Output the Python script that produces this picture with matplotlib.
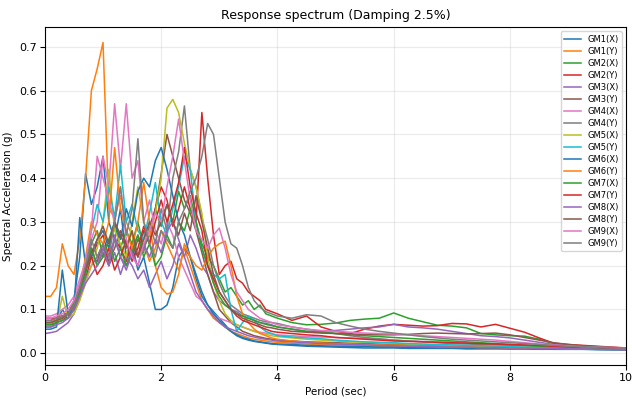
import numpy as np
import matplotlib
matplotlib.use("Agg")
import matplotlib.pyplot as plt

# periods: 0.1 s step up to 4 s, 0.25 s step after
periods = np.concatenate([np.arange(0, 4.01, 0.1), np.arange(4.25, 10.01, 0.25)])

gm1_x = [0.06, 0.06, 0.07, 0.10, 0.08, 0.12, 0.22, 0.41, 0.34, 0.38,
         0.45, 0.30, 0.26, 0.33, 0.22, 0.25, 0.19, 0.22, 0.16, 0.10,
         0.10, 0.11, 0.15, 0.22, 0.24, 0.22, 0.17, 0.13, 0.11, 0.095,
         0.08, 0.065, 0.05, 0.04, 0.034, 0.03, 0.027, 0.025, 0.023, 0.021,
         0.02,
         0.018, 0.016, 0.015, 0.014, 0.013, 0.012, 0.012, 0.012, 0.011, 0.011, 0.011, 0.011,
         0.010, 0.010, 0.010, 0.010, 0.010, 0.009, 0.009, 0.009, 0.009, 0.009, 0.008, 0.008]
gm1_y = [0.13, 0.13, 0.15, 0.25, 0.20, 0.18, 0.26, 0.40, 0.60, 0.65,
         0.71, 0.33, 0.31, 0.36, 0.30, 0.27, 0.22, 0.25, 0.21, 0.24,
         0.28, 0.25, 0.22, 0.19, 0.24, 0.20, 0.16, 0.12, 0.10, 0.08,
         0.07, 0.06, 0.05, 0.045, 0.04, 0.035, 0.032, 0.03, 0.028, 0.026,
         0.025,
         0.023, 0.021, 0.02, 0.019, 0.018, 0.017, 0.016, 0.016, 0.015, 0.015, 0.014, 0.014,
         0.013, 0.013, 0.013, 0.012, 0.012, 0.012, 0.011, 0.011, 0.011, 0.010, 0.010, 0.010]
gm2_x = [0.07, 0.07, 0.075, 0.08, 0.09, 0.12, 0.15, 0.19, 0.25, 0.28,
         0.22, 0.26, 0.30, 0.24, 0.28, 0.25, 0.30, 0.24, 0.27, 0.33,
         0.29, 0.34, 0.30, 0.37, 0.33, 0.36, 0.30, 0.25, 0.22, 0.20,
         0.17, 0.14, 0.15, 0.13, 0.11, 0.12, 0.10, 0.11, 0.09, 0.085,
         0.08,
         0.07, 0.065, 0.066, 0.069, 0.075, 0.078, 0.08, 0.092, 0.08, 0.072, 0.064, 0.062,
         0.058, 0.045, 0.042, 0.04, 0.039, 0.032, 0.022, 0.018, 0.016, 0.014, 0.012, 0.011]
gm2_y = [0.08, 0.08, 0.08, 0.085, 0.09, 0.10, 0.13, 0.17, 0.22, 0.25,
         0.27, 0.22, 0.26, 0.24, 0.21, 0.25, 0.22, 0.28, 0.25, 0.33,
         0.38, 0.35, 0.29, 0.33, 0.38, 0.33, 0.30, 0.55, 0.40, 0.27,
         0.18, 0.20, 0.21, 0.17, 0.16, 0.14, 0.13, 0.12, 0.10, 0.095,
         0.09,
         0.075, 0.085, 0.06, 0.05, 0.045, 0.055, 0.062, 0.066, 0.064, 0.062, 0.063, 0.068,
         0.067, 0.06, 0.066, 0.057, 0.048, 0.035, 0.023, 0.02, 0.018, 0.016, 0.014, 0.012]
gm3_x = [0.045, 0.047, 0.05, 0.06, 0.07, 0.09, 0.13, 0.17, 0.20, 0.22,
         0.25, 0.20, 0.23, 0.18, 0.22, 0.20, 0.17, 0.19, 0.15, 0.18,
         0.21, 0.17, 0.20, 0.25, 0.22, 0.27, 0.24, 0.20, 0.18, 0.14,
         0.12, 0.11, 0.10, 0.095, 0.085, 0.08, 0.075, 0.07, 0.068, 0.065,
         0.06,
         0.055, 0.05, 0.05, 0.052, 0.055, 0.058, 0.06, 0.066, 0.06, 0.058, 0.055, 0.05,
         0.045, 0.04, 0.038, 0.035, 0.03, 0.025, 0.02, 0.016, 0.014, 0.012, 0.011, 0.01]
gm3_y = [0.065, 0.065, 0.07, 0.075, 0.085, 0.10, 0.14, 0.19, 0.22, 0.21,
         0.25, 0.21, 0.24, 0.28, 0.25, 0.22, 0.26, 0.24, 0.29, 0.33,
         0.41, 0.50, 0.45, 0.40, 0.35, 0.32, 0.28, 0.23, 0.18, 0.14,
         0.10, 0.085, 0.07, 0.06, 0.05, 0.045, 0.04, 0.037, 0.034, 0.032,
         0.03,
         0.028, 0.026, 0.025, 0.024, 0.023, 0.022, 0.021, 0.02, 0.019, 0.018, 0.018, 0.017,
         0.016, 0.016, 0.015, 0.014, 0.013, 0.012, 0.011, 0.01, 0.01, 0.009, 0.009, 0.008]
gm4_x = [0.085, 0.085, 0.09, 0.10, 0.11, 0.13, 0.17, 0.21, 0.26, 0.30,
         0.45, 0.38, 0.57, 0.42, 0.57, 0.40, 0.44, 0.30, 0.35, 0.28,
         0.25, 0.30, 0.27, 0.22, 0.19, 0.16, 0.13, 0.12, 0.10, 0.09,
         0.08, 0.075, 0.07, 0.065, 0.06, 0.055, 0.05, 0.048, 0.046, 0.044,
         0.042,
         0.04, 0.038, 0.037, 0.036, 0.035, 0.034, 0.032, 0.03, 0.028, 0.027, 0.026, 0.025,
         0.024, 0.022, 0.02, 0.019, 0.018, 0.016, 0.015, 0.014, 0.013, 0.012, 0.011, 0.01]
gm4_y = [0.07, 0.07, 0.075, 0.08, 0.09, 0.11, 0.15, 0.20, 0.24, 0.20,
         0.23, 0.20, 0.26, 0.22, 0.20, 0.24, 0.27, 0.23, 0.30, 0.25,
         0.33, 0.28, 0.40, 0.46, 0.565, 0.42, 0.38, 0.31, 0.26, 0.20,
         0.16, 0.13, 0.11, 0.10, 0.09, 0.085, 0.08, 0.075, 0.072, 0.07,
         0.068,
         0.06, 0.055, 0.05, 0.045, 0.04, 0.036, 0.033, 0.03, 0.028, 0.026, 0.024, 0.022,
         0.021, 0.02, 0.019, 0.018, 0.017, 0.016, 0.015, 0.014, 0.013, 0.012, 0.011, 0.01]
gm5_x = [0.06, 0.06, 0.065, 0.13, 0.08, 0.09, 0.12, 0.16, 0.20, 0.24,
         0.30, 0.42, 0.28, 0.25, 0.22, 0.30, 0.38, 0.30, 0.27, 0.32,
         0.40, 0.56, 0.58, 0.55, 0.48, 0.42, 0.38, 0.32, 0.22, 0.16,
         0.12, 0.09, 0.075, 0.065, 0.06, 0.055, 0.05, 0.046, 0.043, 0.04,
         0.038,
         0.035, 0.032, 0.03, 0.028, 0.026, 0.025, 0.024, 0.022, 0.021, 0.02, 0.019, 0.018,
         0.017, 0.016, 0.015, 0.014, 0.014, 0.013, 0.012, 0.011, 0.011, 0.01, 0.01, 0.009]
gm5_y = [0.07, 0.07, 0.075, 0.08, 0.09, 0.11, 0.15, 0.20, 0.28, 0.34,
         0.30, 0.38, 0.31, 0.43, 0.30, 0.34, 0.28, 0.26, 0.32, 0.39,
         0.30, 0.27, 0.33, 0.38, 0.45, 0.42, 0.30, 0.24, 0.20, 0.18,
         0.17, 0.18, 0.10, 0.05, 0.07, 0.085, 0.075, 0.06, 0.05, 0.045,
         0.04,
         0.037, 0.035, 0.033, 0.03, 0.028, 0.026, 0.025, 0.024, 0.022, 0.021, 0.02, 0.019,
         0.018, 0.017, 0.016, 0.015, 0.014, 0.013, 0.012, 0.011, 0.011, 0.01, 0.01, 0.009]
gm6_x = [0.055, 0.055, 0.06, 0.19, 0.09, 0.10, 0.31, 0.20, 0.22, 0.26,
         0.28, 0.24, 0.30, 0.26, 0.33, 0.29, 0.37, 0.40, 0.38, 0.44,
         0.47, 0.42, 0.36, 0.30, 0.27, 0.22, 0.18, 0.14, 0.11, 0.09,
         0.075, 0.06, 0.05, 0.042, 0.036, 0.032, 0.028, 0.026, 0.024, 0.022,
         0.021,
         0.02, 0.018, 0.017, 0.016, 0.015, 0.015, 0.014, 0.014, 0.013, 0.013, 0.012, 0.012,
         0.011, 0.011, 0.011, 0.01, 0.01, 0.01, 0.009, 0.009, 0.009, 0.008, 0.008, 0.008]
gm6_y = [0.07, 0.07, 0.075, 0.08, 0.09, 0.11, 0.15, 0.22, 0.30, 0.27,
         0.25, 0.30, 0.47, 0.33, 0.28, 0.24, 0.30, 0.39, 0.30, 0.20,
         0.15, 0.135, 0.14, 0.18, 0.25, 0.22, 0.20, 0.19, 0.22, 0.24,
         0.25, 0.256, 0.20, 0.13, 0.09, 0.07, 0.055, 0.045, 0.04, 0.035,
         0.032,
         0.028, 0.025, 0.023, 0.022, 0.021, 0.02, 0.019, 0.018, 0.017, 0.016, 0.015, 0.015,
         0.014, 0.013, 0.013, 0.012, 0.012, 0.011, 0.011, 0.01, 0.01, 0.009, 0.009, 0.009]
gm7_x = [0.065, 0.065, 0.07, 0.075, 0.08, 0.10, 0.14, 0.18, 0.24, 0.20,
         0.22, 0.26, 0.21, 0.24, 0.20, 0.23, 0.27, 0.22, 0.25, 0.20,
         0.22, 0.27, 0.24, 0.30, 0.28, 0.33, 0.30, 0.24, 0.20, 0.16,
         0.13, 0.11, 0.10, 0.09, 0.085, 0.08, 0.075, 0.07, 0.066, 0.063,
         0.06,
         0.055, 0.05, 0.048, 0.045, 0.042, 0.04, 0.038, 0.036, 0.034, 0.032, 0.03, 0.028,
         0.026, 0.024, 0.022, 0.02, 0.018, 0.016, 0.015, 0.014, 0.013, 0.012, 0.011, 0.01]
gm7_y = [0.075, 0.075, 0.08, 0.085, 0.09, 0.11, 0.15, 0.20, 0.22, 0.18,
         0.20, 0.24, 0.19, 0.22, 0.26, 0.21, 0.24, 0.29, 0.25, 0.30,
         0.35, 0.30, 0.34, 0.39, 0.47, 0.38, 0.32, 0.28, 0.20, 0.17,
         0.14, 0.12, 0.10, 0.085, 0.075, 0.07, 0.065, 0.06, 0.055, 0.05,
         0.048,
         0.045, 0.042, 0.04, 0.036, 0.034, 0.032, 0.03, 0.028, 0.027, 0.026, 0.025, 0.024,
         0.023, 0.022, 0.021, 0.02, 0.019, 0.018, 0.016, 0.015, 0.014, 0.013, 0.012, 0.011]
gm8_x = [0.06, 0.06, 0.065, 0.07, 0.08, 0.10, 0.13, 0.16, 0.18, 0.20,
         0.24, 0.20, 0.27, 0.22, 0.19, 0.23, 0.20, 0.25, 0.22, 0.26,
         0.23, 0.28, 0.30, 0.26, 0.22, 0.18, 0.14, 0.12, 0.10, 0.085,
         0.07, 0.06, 0.055, 0.05, 0.045, 0.04, 0.037, 0.034, 0.032, 0.03,
         0.028,
         0.026, 0.024, 0.022, 0.021, 0.02, 0.019, 0.018, 0.017, 0.016, 0.015, 0.015, 0.014,
         0.014, 0.013, 0.013, 0.012, 0.012, 0.011, 0.011, 0.01, 0.01, 0.009, 0.009, 0.008]
gm8_y = [0.07, 0.07, 0.075, 0.08, 0.09, 0.11, 0.15, 0.19, 0.23, 0.26,
         0.29, 0.25, 0.30, 0.27, 0.24, 0.28, 0.22, 0.26, 0.30, 0.27,
         0.30, 0.34, 0.30, 0.27, 0.32, 0.28, 0.36, 0.30, 0.24, 0.18,
         0.14, 0.12, 0.10, 0.09, 0.08, 0.075, 0.07, 0.065, 0.06, 0.058,
         0.055,
         0.05, 0.048, 0.046, 0.045, 0.044, 0.043, 0.042, 0.042, 0.043, 0.045, 0.046, 0.045,
         0.044, 0.045, 0.046, 0.042, 0.036, 0.03, 0.024, 0.02, 0.017, 0.015, 0.013, 0.012]
gm9_x = [0.08, 0.08, 0.085, 0.09, 0.10, 0.12, 0.16, 0.21, 0.28, 0.45,
         0.40, 0.35, 0.30, 0.38, 0.26, 0.22, 0.20, 0.25, 0.28, 0.32,
         0.30, 0.38, 0.45, 0.535, 0.44, 0.35, 0.28, 0.26, 0.24, 0.27,
         0.286, 0.24, 0.18, 0.14, 0.12, 0.10, 0.09, 0.08, 0.075, 0.07,
         0.065,
         0.06, 0.055, 0.052, 0.05, 0.048, 0.046, 0.045, 0.044, 0.042, 0.04, 0.038, 0.036,
         0.034, 0.032, 0.03, 0.027, 0.024, 0.021, 0.019, 0.017, 0.015, 0.014, 0.013, 0.012]
gm9_y = [0.075, 0.075, 0.08, 0.085, 0.09, 0.11, 0.15, 0.20, 0.26, 0.22,
         0.25, 0.22, 0.30, 0.38, 0.27, 0.33, 0.49, 0.30, 0.25, 0.22,
         0.28, 0.26, 0.24, 0.30, 0.33, 0.37, 0.40, 0.45, 0.525, 0.50,
         0.40, 0.30, 0.25, 0.24, 0.20, 0.15, 0.12, 0.105, 0.095, 0.09,
         0.085,
         0.08, 0.088, 0.085, 0.07, 0.062, 0.055, 0.05, 0.046, 0.042, 0.038, 0.035, 0.032,
         0.03, 0.028, 0.026, 0.024, 0.022, 0.02, 0.018, 0.016, 0.015, 0.014, 0.013, 0.012]

labels = ["GM1(X)", "GM1(Y)", "GM2(X)", "GM2(Y)", "GM3(X)", "GM3(Y)",
          "GM4(X)", "GM4(Y)", "GM5(X)", "GM5(Y)", "GM6(X)", "GM6(Y)",
          "GM7(X)", "GM7(Y)", "GM8(X)", "GM8(Y)", "GM9(X)", "GM9(Y)"]
series = [gm1_x, gm1_y, gm2_x, gm2_y, gm3_x, gm3_y, gm4_x, gm4_y, gm5_x,
          gm5_y, gm6_x, gm6_y, gm7_x, gm7_y, gm8_x, gm8_y, gm9_x, gm9_y]

fig = plt.figure(figsize=(6.32, 3.99), dpi=100)
ax = fig.add_axes([0.071, 0.085, 0.920, 0.847])

for lab, sa in zip(labels, series):
    ax.plot(periods, sa, label=lab, linewidth=1.1)

ax.set_xlim(0, 10)
ax.set_title("Response spectrum (Damping 2.5%)", fontsize=9)
ax.set_xlabel("Period (sec)", fontsize=7.5, labelpad=2)
ax.set_ylabel("Spectral Acceleration (g)", fontsize=7.5)
ax.tick_params(labelsize=8, pad=2.5)
ax.grid(True, alpha=0.25)
ax.legend(loc="upper right", fontsize=6, labelspacing=0.36)

fig.savefig("out.png", dpi=100)
